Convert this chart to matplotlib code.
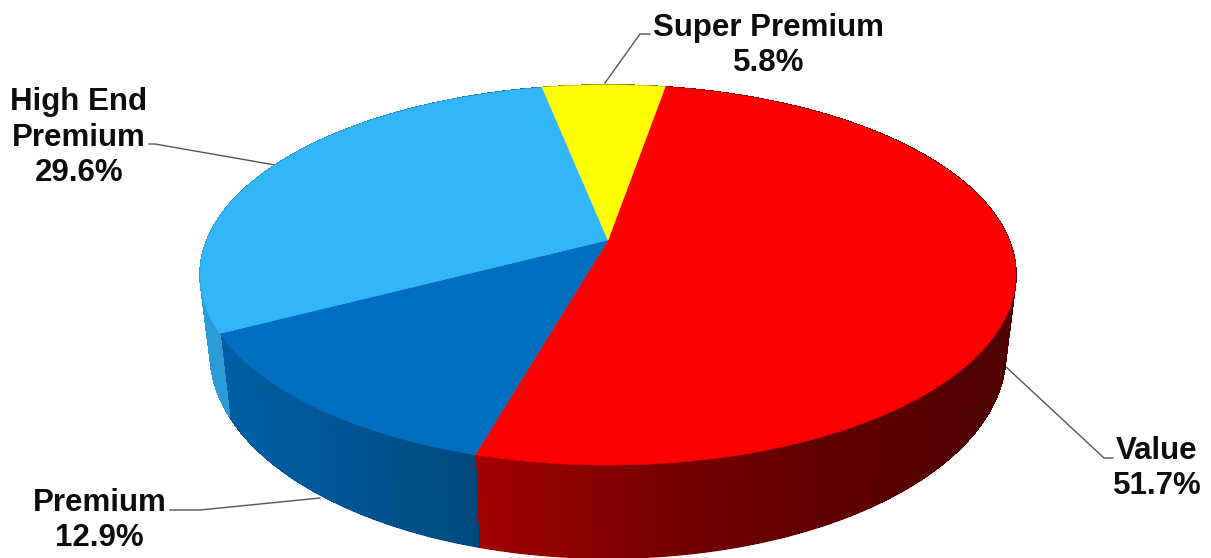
import numpy as np
import matplotlib
matplotlib.use("Agg")
import matplotlib.pyplot as plt
from matplotlib.collections import PolyCollection
from matplotlib.colors import to_rgb

# Data, clockwise from the top-right edge of the Super Premium slice
categories = ["Value", "Premium", "High End\nPremium", "Super Premium"]
shares = [51.7, 12.9, 29.6, 5.8]
labels = ["51.7%", "12.9%", "29.6%", "5.8%"]
colors = ["#FF0000", "#006FBF", "#33B5FA", "#FFFF00"]

START_DEG = 9.7
K = 0.184
CX = 608.0
TOP = dict(y0=240.0, a=183.6, b=401.0)
BOT = dict(y0=317.5, a=197.0, b=391.0)


def project(theta_deg, face):
    t = np.radians(theta_deg)
    u, v = np.sin(t), np.cos(t)
    d = 1 + K * v
    return CX + face["b"] * u / d, face["y0"] - face["a"] * v / d


def shade(x):
    return np.interp(x, [205, 230, 470, 480, 650, 800, 1000, 1016],
                     [0.86, 0.86, 0.67, 0.64, 0.48, 0.39, 0.31, 0.31])


fig = plt.figure(figsize=(12.11, 5.58), dpi=100)
ax = fig.add_axes([0, 0, 1, 1])
ax.set_xlim(0, 1211)
ax.set_ylim(558, 0)
ax.axis("off")

edges = START_DEG + np.cumsum([0] + shares) * 3.6

# side walls: a soft-edged layer, then a seamless layer slightly inset
for i, col in enumerate(colors):
    a0, a1 = edges[i], edges[i + 1]
    th = np.arange(a0, a1 + 0.5, 0.5)
    th[-1] = a1
    xt, yt = project(th, TOP)
    xb, yb = project(th, BOT)
    outer, inner, fc = [], [], []
    base = np.array(to_rgb(col))
    for j in range(len(th) - 1):
        outer.append([(xt[j], yt[j]), (xt[j + 1], yt[j + 1]),
                      (xb[j + 1], yb[j + 1]), (xb[j], yb[j])])
        inner.append([(xt[j], yt[j]), (xt[j + 1], yt[j + 1]),
                      (xb[j + 1], yb[j + 1] - 1.2), (xb[j], yb[j] - 1.2)])
        fc.append(tuple(base * shade((xt[j] + xb[j]) / 2)))
    ax.add_collection(PolyCollection(outer, facecolors=fc, edgecolors="none",
                                     linewidths=0, zorder=2))
    ax.add_collection(PolyCollection(inner, facecolors=fc, edgecolors=fc,
                                     linewidths=0.5, antialiased=False, zorder=2.1))

# top faces
for i, col in enumerate(colors):
    th = np.linspace(edges[i], edges[i + 1], 240)
    xt, yt = project(th, TOP)
    ax.fill(np.r_[CX, xt], np.r_[TOP["y0"], yt], color=col, lw=0.4, zorder=3)

# leader lines
leaders = [
    ([1005, 1104, 1113], [366, 458, 458]),
    ([320, 200, 170], [498, 510, 510]),
    ([275, 155, 149], [165, 144, 144]),
    ([605, 640, 650], [83, 34, 34]),
]
for lx, ly in leaders:
    ax.plot(lx, ly, color="#555555", lw=1.0, zorder=1)

font = dict(family="Liberation Sans", fontweight="bold", fontsize=22.5,
            color="#0d0d0d", ha="center", va="center", linespacing=1.245)
ax.text(1157, 468.5, f"{categories[0]}\n{labels[0]}", **font)
ax.text(99.5, 520.5, f"{categories[1]}\n{labels[1]}", **font)
ax.text(79, 137.5, f"{categories[2]}\n{labels[2]}", **font)
ax.text(768.5, 45.5, f"{categories[3]}\n{labels[3]}", **font)

fig.savefig("out.png", dpi=100)
